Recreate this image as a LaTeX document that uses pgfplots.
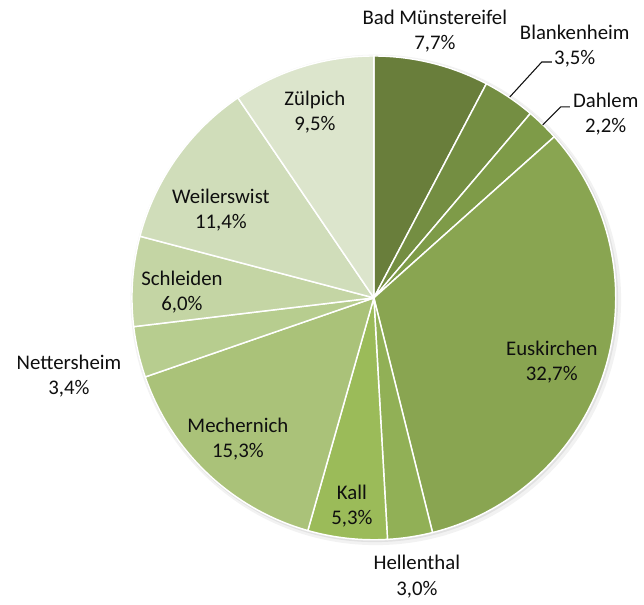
\documentclass[border=0pt]{standalone}
\usepackage{pgfplots}
\usepackage{pgfplotstable}
\pgfplotsset{compat=1.18}
\usepackage{fontspec}
\setmainfont{Carlito}
\definecolor{slice0}{RGB}{105,126,59}
\definecolor{slice1}{RGB}{116,142,66}
\definecolor{slice2}{RGB}{126,155,72}
\definecolor{slice3}{RGB}{137,165,81}
\definecolor{slice4}{RGB}{145,176,86}
\definecolor{slice5}{RGB}{155,187,89}
\definecolor{slice6}{RGB}{170,194,121}
\definecolor{slice7}{RGB}{183,205,143}
\definecolor{slice8}{RGB}{196,213,164}
\definecolor{slice9}{RGB}{208,221,186}
\definecolor{slice10}{RGB}{220,229,204}
\definecolor{txt}{RGB}{15,15,15}
% values in percent, clockwise from 12 o'clock
\pgfplotstableread{
name value
BadMuenstereifel 7.7
Blankenheim 3.5
Dahlem 2.2
Euskirchen 32.7
Hellenthal 3.0
Kall 5.3
Mechernich 15.3
Nettersheim 3.4
Schleiden 6.0
Weilerswist 11.4
Zuelpich 9.5
}\piedata
\begin{document}
\begin{tikzpicture}
\begin{axis}[hide axis, x=0.75pt, y=0.75pt, xmin=0, xmax=644, ymin=0, ymax=605,
  y dir=reverse, clip=false]
\path (axis cs:0,0) rectangle (axis cs:644,605);
% soft shadow
\fill[black, opacity=0.05] (axis cs:376,300) circle[radius=184pt];
\fill[black, opacity=0.07] (axis cs:375,299) circle[radius=182.5pt];
\pgfplotsextra{
  \gdef\cum{0}
  \pgfplotstableforeachcolumnelement{value}\of\piedata\as\val{%
    \pgfmathsetmacro\sa{90-3.6*\cum}%
    \pgfmathsetmacro\ea{90-3.6*(\cum+\val)}%
    \fill[slice\pgfplotstablerow, draw=white, line width=1.1pt, line join=round]
      (axis cs:374,298) -- ++(\sa:181.5pt) arc[start angle=\sa, end angle=\ea, radius=181.5pt] -- cycle;
    \pgfmathsetmacro\newcum{\cum+\val}%
    \xdef\cum{\newcum}%
  }
}
% leader lines
\draw[txt, line width=0.8pt] (axis cs:510,97) -- (axis cs:542,62) -- (axis cs:552,62);
\draw[txt, line width=0.8pt] (axis cs:543,125) -- (axis cs:561,107) -- (axis cs:570,107);
% labels
\tikzset{lbl/.style={align=center, text=txt, inner sep=0pt, font=\fontsize{15.6}{19}\selectfont}}
\node[lbl] at (axis cs:435,31) {Bad Münstereifel\\7,7\%};
\node[lbl] at (axis cs:575,46) {Blankenheim\\3,5\%};
\node[lbl] at (axis cs:606,114) {Dahlem\\2,2\%};
\node[lbl] at (axis cs:552,362) {Euskirchen\\32,7\%};
\node[lbl] at (axis cs:417,577) {Hellenthal\\3,0\%};
\node[lbl] at (axis cs:352,506) {Kall\\5,3\%};
\node[lbl] at (axis cs:238,439) {Mechernich\\15,3\%};
\node[lbl] at (axis cs:69,376) {Nettersheim\\3,4\%};
\node[lbl] at (axis cs:182,292) {Schleiden\\6,0\%};
\node[lbl] at (axis cs:221,210) {Weilerswist\\11,4\%};
\node[lbl] at (axis cs:315,112) {Zülpich\\9,5\%};
\end{axis}
\end{tikzpicture}
\end{document}
